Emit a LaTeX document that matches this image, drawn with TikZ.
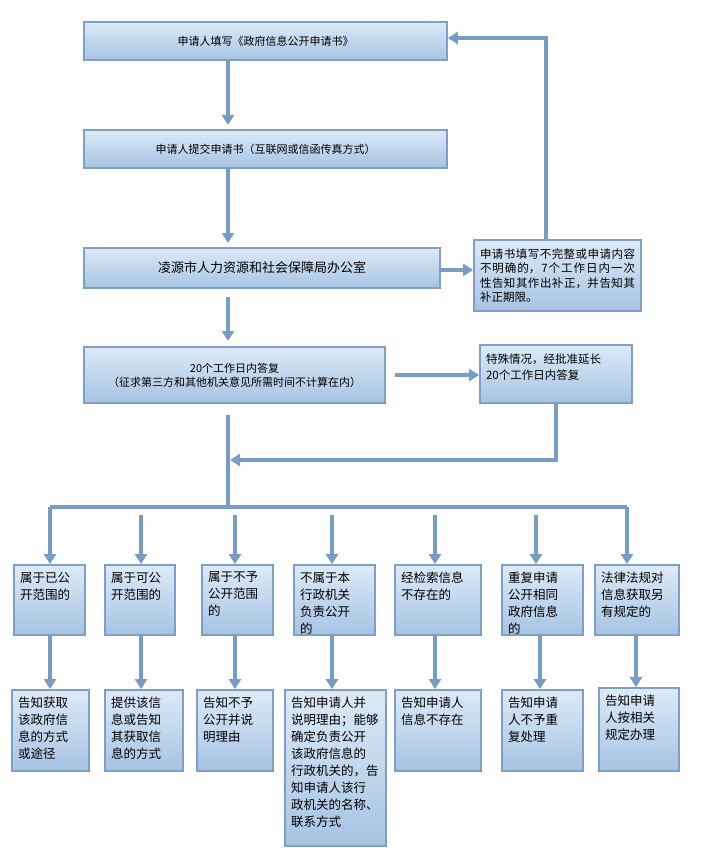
\documentclass[tikz,border=0pt]{standalone}
\usepackage{fontspec}
\setmainfont{Noto Sans CJK SC}
\XeTeXlinebreaklocale "zh"
\XeTeXlinebreakskip=0pt plus 1pt
\usetikzlibrary{arrows.meta}
\definecolor{bd}{HTML}{7F9FC6}
\definecolor{ar}{HTML}{7A9CC2}
\definecolor{tp}{HTML}{DDEAF7}
\definecolor{bt}{HTML}{A6C3E3}
\tikzset{
 box/.style={draw=bd,line width=1.8pt,top color=tp,bottom color=bt,inner sep=0pt,font=\fontsize{11}{14}\selectfont},
 arr/.style={draw=ar,line width=3.2pt,-{Triangle[length=10pt,width=12pt]}},
 ln/.style={draw=ar,line width=3.2pt}
}
% \bx{name}{x1}{y1}{x2}{y2}{text}  top-left aligned
\newcommand\bx[6]{%
 \pgfmathsetmacro\bw{#4-#2}\pgfmathsetmacro\bh{#5-#3}%
 \pgfmathsetmacro\pw{#4-#2-12}\pgfmathsetmacro\ph{#5-#3-14}%
 \pgfmathsetmacro\cx{(#2+#4)/2}\pgfmathsetmacro\cy{(#3+#5)/2}%
 \node[box,minimum width=\bw pt,minimum height=\bh pt] (#1) at (\cx,\cy) {\parbox[c][\ph pt][t]{\pw pt}{\raggedright\fontsize{12.5}{17}\selectfont #6}};}
\begin{document}
\begin{tikzpicture}[x=1pt,y=-1pt]
\useasboundingbox (0,0) rectangle (712,856);
\node[box,minimum width=363pt,minimum height=38pt] (b1) at (265.5,41) {申请人填写《政府信息公开申请书》};
\node[box,minimum width=363pt,minimum height=38pt] (b2) at (265.5,149) {申请人提交申请书（互联网或信函传真方式）};
\node[box,minimum width=356pt,minimum height=40pt,font=\fontsize{13}{16}\selectfont] (b3) at (262,268) {凌源市人力资源和社会保障局办公室};
\node[box,minimum width=301pt,minimum height=56pt,align=center] (b4) at (234.5,375) {20个工作日内答复\\（征求第三方和其他机关意见所需时间不计算在内）};
\node[box,minimum width=167pt,minimum height=71pt] (r1) at (557.5,275.5) {\parbox{155pt}{\fontsize{11.5}{14.5}\selectfont 申请书填写不完整或申请内容不明确的，7个工作日内一次性告知其作出补正，并告知其补正期限。}};
\node[box,minimum width=152pt,minimum height=58pt] (r2) at (556,374) {\parbox[c][40pt][t]{140pt}{\fontsize{11.5}{16}\selectfont 特殊情况，经批准延长\\20个工作日内答复}};
\draw[arr] (228,60) -- (228,125);
\draw[arr] (228,168) -- (228,243);
\draw[arr] (b3.east |- 0,270) -- (r1.west |- 0,270);
\draw[arr] (r1.north -| 546,0) -- (546,38) -- (b1.east |- 0,38);
\draw[arr] (228,297) -- (228,341);
\draw[arr] (395,375) -- (r2.west |- 0,375);
\draw[arr] (r2.south -| 556,0) -- (556,460) -- (230,460);
\draw[ln] (228,415) -- (228,507);
\draw[ln] (50,507) -- (627,507);
\bx{t1}{14}{565}{85}{635}{属于已公\\开范围的}
\bx{t2}{105}{565}{175}{635}{属于可公\\开范围的}
\bx{t3}{202}{565}{273}{635}{属于不予\\公开范围\\的}
\bx{t4}{294}{565}{375}{635}{不属于本\\行政机关\\负责公开\\的}
\bx{t5}{395}{565}{481}{635}{经检索信息\\不存在的}
\bx{t6}{502}{565}{583}{635}{重复申请\\公开相同\\政府信息\\的}
\bx{t7}{595}{565}{679}{635}{法律法规对\\信息获取另\\有规定的}
\bx{u1}{12}{690}{89}{771}{告知获取\\该政府信\\息的方式\\或途径}
\bx{u2}{105}{690}{183}{771}{提供该信\\息或告知\\其获取信\\息的方式}
\bx{u3}{197}{690}{273}{771}{告知不予\\公开并说\\明理由}
\bx{u4}{285}{690}{386}{846}{告知申请人并\\说明理由；能够\\确定负责公开\\该政府信息的\\行政机关的，告\\知申请人该行\\政机关的名称、\\联系方式}
\bx{u5}{395}{690}{481}{771}{告知申请人\\信息不存在}
\bx{u6}{502}{690}{583}{771}{告知申请\\人不予重\\复处理}
\bx{u7}{599}{688}{679}{771}{告知申请\\人按相关\\规定办理}
\draw[arr] (50,507) -- (t1.north -| 50,0);
\draw[arr] (141,515) -- (t2.north -| 141,0);
\draw[arr] (235,515) -- (t3.north -| 235,0);
\draw[arr] (332,515) -- (t4.north -| 332,0);
\draw[arr] (435,515) -- (t5.north -| 435,0);
\draw[arr] (536,515) -- (t6.north -| 536,0);
\draw[arr] (627,507) -- (t7.north -| 627,0);
\draw[arr] (t1.south -| 50,0) -- (u1.north -| 50,0);
\draw[arr] (t2.south -| 141,0) -- (u2.north -| 141,0);
\draw[arr] (t3.south -| 235,0) -- (u3.north -| 235,0);
\draw[arr] (t4.south -| 332,0) -- (u4.north -| 332,0);
\draw[arr] (t5.south -| 435,0) -- (u5.north -| 435,0);
\draw[arr] (t6.south -| 540,0) -- (u6.north -| 540,0);
\draw[arr] (t7.south -| 636,0) -- (u7.north -| 636,0);
\end{tikzpicture}
\end{document}
